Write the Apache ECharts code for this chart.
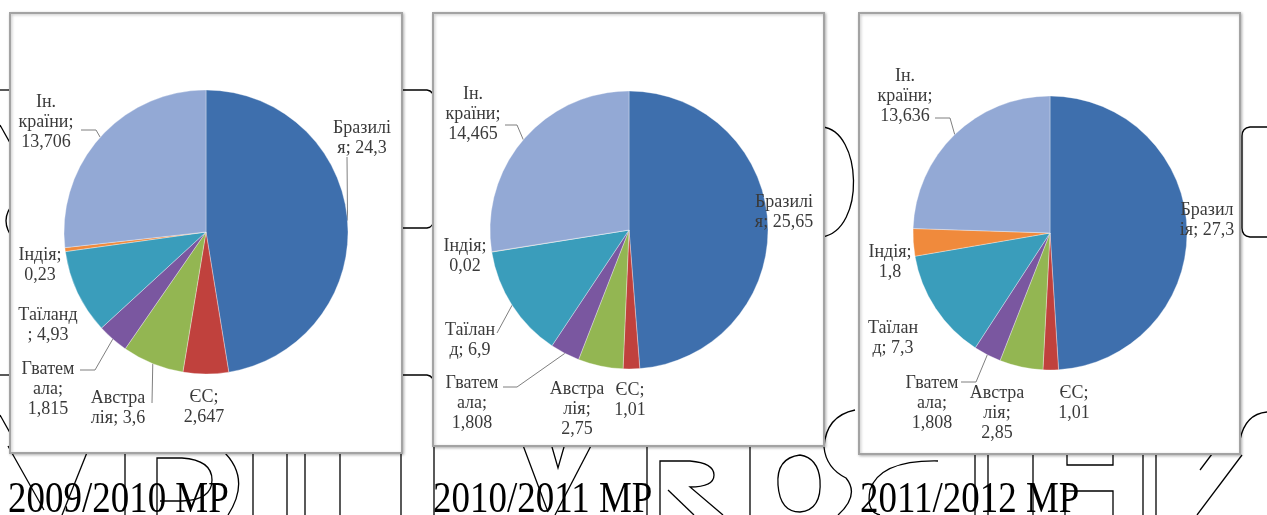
<!DOCTYPE html>
<html>
<head>
<meta charset="utf-8">
<script src="https://cdn.jsdelivr.net/npm/echarts@6/dist/echarts.min.js"></script>
<style>
  html, body { margin: 0; padding: 0; background: #fff; }
  #chart { width: 1267px; height: 515px; }
</style>
</head>
<body>
<div id="chart"></div>
<script>
// Sugar exports by destination, three marketing years (million t)
const categories = ['Бразилія', 'ЄС', 'Австралія', 'Гватемала', 'Таїланд', 'Індія', 'Ін. країни'];
const seasons = ['2009/2010 МР', '2010/2011 МР', '2011/2012 МР'];
const values0910 = [24.3, 2.647, 3.6, 1.815, 4.93, 0.23, 13.706];
const values1011 = [25.65, 1.01, 2.75, 1.808, 6.9, 0.02, 14.465];
const values1112 = [27.3, 1.01, 2.85, 1.808, 7.3, 1.8, 13.636];
const seasonValues = [values0910, values1011, values1112];

// ---- layout & style ----
const sliceColors = ['#3E6FAD', '#C0413D', '#93B652', '#7A57A0', '#3A9DBB', '#F08A3C', '#93A9D5'];
const panels = [[10, 13, 392, 440], [433, 13, 391, 433], [859, 13, 381, 441]];
const pieCenters = [[206, 232], [629, 230], [1050, 233]];
const pieRadii = [142, 139, 137];
const captionX = [8, 433, 860];

// where each label wraps (character positions in "name; value")
const labelCuts = [
  [[7], [3], [6], [6, 10], [7], [6], [3, 11]],
  [[7], [3], [6, 10], [6, 10], [6], [6], [3, 11]],
  [[6], [3], [6, 10], [6, 10], [6], [6], [3, 11]]
];
// label centre, offset from the pie centre
const labelOffsets = [
  [[156, -94], [-2, 175], [-88, 176], [-158, 157], [-158, 93], [-166, 33], [-160, -110]],
  [[155, -18], [1, 170], [-52, 179], [-157, 173], [-159, 110], [-164, 26], [-156, -116]],
  [[157, -13], [24, 170], [-53, 180], [-118, 170], [-157, 105], [-160, 29], [-145, -137]]
];
// leader lines: [attach dx, attach dy from label centre, horizontal elbow]; null = no leader
const leaders = [
  [[-15, 19, 0], null, [34, -5, 0], [32, -19, 15], null, null, [35, 8, 15]],
  [null, null, null, [31, -16, 14], [27, -7, 0], null, [32, 11, 12]],
  [null, null, null, [29, -21, 15], null, null, [30, 22, 15]]
];

function fmt(v) { return String(v).replace('.', ','); }
function wrapLabel(text, cuts) {
  const parts = [];
  let start = 0;
  cuts.forEach(c => { parts.push(text.slice(start, c).trim()); start = c; });
  parts.push(text.slice(start).trim());
  return parts.join('\n');
}
// point on the rim at the middle of a slice (clockwise from 12 o'clock)
function rimPoint(s, i) {
  const vals = seasonValues[s];
  const total = vals.reduce((a, b) => a + b, 0);
  const before = vals.slice(0, i).reduce((a, b) => a + b, 0);
  const ang = (before + vals[i] / 2) / total * Math.PI * 2;
  const c = pieCenters[s], r = pieRadii[s];
  return [c[0] + r * Math.sin(ang), c[1] - r * Math.cos(ang)];
}

const pieSeries = seasonValues.map((vals, s) => ({
  type: 'pie',
  z: 3,
  center: pieCenters[s],
  radius: pieRadii[s],
  startAngle: 90,
  clockwise: true,
  animation: false,
  silent: true,
  itemStyle: { borderColor: 'rgba(255,255,255,0.55)', borderWidth: 0.6 },
  label: {
    show: true,
    position: 'outside',
    overflow: 'none',
    fontFamily: 'Liberation Serif',
    fontSize: 18,
    lineHeight: 20,
    color: '#3a3a3a',
    align: 'center',
    formatter: p => wrapLabel(p.name + '; ' + fmt(p.value), labelCuts[s][p.dataIndex])
  },
  labelLine: { show: true, length: 6, length2: 8, lineStyle: { color: '#7f7f7f', width: 1 } },
  labelLayout: p => {
    const i = p.dataIndex;
    const o = labelOffsets[s][i];
    const lx = pieCenters[s][0] + o[0], ly = pieCenters[s][1] + o[1];
    const out = { x: lx, y: ly, align: 'center', verticalAlign: 'middle' };
    const g = leaders[s][i];
    if (g) {
      const attach = [lx + g[0], ly + g[1]];
      const elbow = [attach[0] + g[2], attach[1]];
      out.labelLinePoints = [rimPoint(s, i), elbow, attach];
    }
    return out;
  },
  data: categories.map((name, i) => ({
    name,
    value: vals[i],
    itemStyle: { color: sliceColors[i] },
    labelLine: { show: !!leaders[s][i] }
  }))
}));

// large outlined lettering running behind the panels
const outlinePaths = [
  'M0 90 L14 90', 'M0 125 L14 150', 'M14 203 Q-2 220 14 240', 'M0 375 L14 375', 'M0 415 L14 440',
  'M8 446 L44 510', 'M88 450 L62 515', 'M125 450 L125 515',
  'M157 515 L157 458 L182 458 Q212 460 212 480 Q212 500 182 501 L160 501',
  'M222 450 Q252 478 228 515',
  'M253 450 L253 515', 'M287 450 L287 515', 'M305 450 L305 515', 'M340 450 L340 515', 'M401 450 L401 515', 'M434 440 L434 515',
  'M395 90 L427 90 Q434 91 434 100', 'M395 228 L427 228 Q434 227 434 218', 'M395 375 L427 375 Q434 376 434 385',
  'M521 440 L548 512', 'M550 440 L558 468 L566 440', 'M594 440 L555 515', 'M647 440 L647 515',
  'M660 515 L660 461 L690 461 Q714 463 714 475 Q714 487 690 487 L723 515', 'M668 490 L694 515',
  'M750 440 L750 515',
  'M800 455 Q776 458 778 485 Q780 512 800 512 Q822 510 820 480 Q818 458 800 455',
  'M822 127 C 862 130, 866 230, 822 237',
  'M855 410 Q826 416 824 447 Q826 468 846 478 Q860 495 838 515',
  'M938 461 Q880 460 870 490 Q866 512 880 515',
  'M975 450 L975 515', 'M988 450 L988 515', 'M1033 450 L1033 515',
  'M1067 454 L1067 465 L1113 465 L1113 454',
  'M1065 515 L1065 491 L1113 491 L1113 515',
  'M1143 450 L1143 515', 'M1156 450 L1156 515',
  'M1242 455 L1197 515', 'M1215 450 L1200 470',
  'M1267 127 L1250 127 Q1242 128 1242 136 L1242 228 Q1242 236 1250 237 L1267 237',
  'M1267 412 Q1245 414 1240 440'
];

const lettering = {
  type: 'custom',
  coordinateSystem: 'none',
  z: 0,
  silent: true,
  animation: false,
  data: [0],
  renderItem: () => ({
    type: 'group',
    children: outlinePaths.map(d => ({
      type: 'path',
      shape: { pathData: d },
      style: { fill: 'none', stroke: '#000', lineWidth: 1.3 }
    }))
  })
};

const graphics = [];
panels.forEach(p => graphics.push({
  type: 'rect', z: 1, silent: true,
  shape: { x: p[0], y: p[1], width: p[2], height: p[3] },
  style: { fill: '#fff', stroke: '#a3a3a3', lineWidth: 2, shadowBlur: 3, shadowColor: 'rgba(0,0,0,0.25)', shadowOffsetX: 1, shadowOffsetY: 1 }
}));
seasons.forEach((t, i) => graphics.push({
  type: 'text', z: 5, silent: true,
  x: captionX[i], y: 500, scaleX: 0.84,
  style: { text: t, font: '44px "Liberation Serif"', fill: '#000', textVerticalAlign: 'middle' }
}));

const chart = echarts.init(document.getElementById('chart'), null, { renderer: 'canvas' });
chart.setOption({
  backgroundColor: '#fff',
  animation: false,
  graphic: { elements: graphics },
  series: [lettering].concat(pieSeries)
});
</script>
</body>
</html>
